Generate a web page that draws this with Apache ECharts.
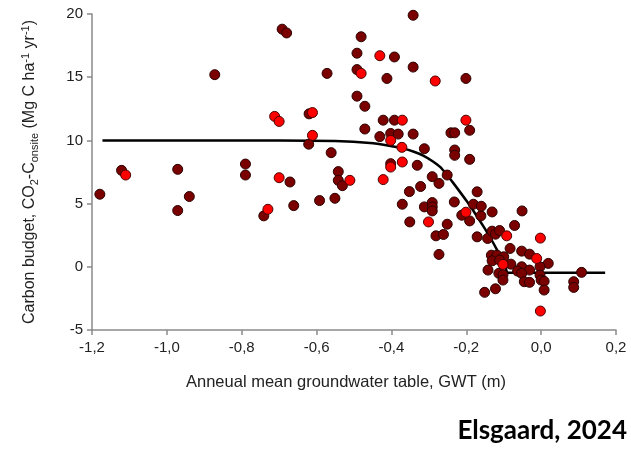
<!DOCTYPE html>
<html>
<head>
<meta charset="utf-8">
<script src="https://cdn.jsdelivr.net/npm/echarts@6/dist/echarts.min.js"></script>
<style>
  html, body { margin: 0; padding: 0; background: #fff; }
  #main { width: 631px; height: 449px; }
</style>
</head>
<body>
<div id="main"></div>
<script>
// dark red sites
const darkPoints = [
  [-1.179, 5.74], [-1.121, 7.63], [-0.971, 7.71], [-0.971, 4.45], [-0.940, 5.56],
  [-0.872, 15.2], [-0.790, 8.13], [-0.790, 7.26], [-0.741, 4.03], [-0.692, 18.8],
  [-0.680, 18.5], [-0.671, 6.71], [-0.661, 4.84], [-0.621, 9.7], [-0.620, 12.1],
  [-0.592, 5.24], [-0.572, 15.3], [-0.561, 9.03], [-0.551, 5.42], [-0.542, 7.53],
  [-0.542, 6.84], [-0.531, 6.42], [-0.492, 16.9], [-0.492, 15.6], [-0.492, 13.5],
  [-0.481, 18.2], [-0.471, 12.7], [-0.471, 10.9], [-0.431, 10.3], [-0.422, 11.6],
  [-0.412, 14.9], [-0.402, 10.55], [-0.402, 8.16], [-0.392, 16.6], [-0.392, 11.6],
  [-0.382, 10.5], [-0.371, 4.95], [-0.352, 5.95], [-0.351, 3.55], [-0.342, 19.9],
  [-0.342, 15.8], [-0.342, 10.5], [-0.331, 8.03], [-0.322, 6.35], [-0.312, 9.34],
  [-0.312, 4.74], [-0.291, 7.13], [-0.291, 5.08], [-0.291, 4.74], [-0.291, 4.42],
  [-0.281, 2.45], [-0.273, 6.6], [-0.273, 0.98], [-0.261, 2.56], [-0.251, 7.26],
  [-0.251, 3.37], [-0.241, 10.6], [-0.231, 10.6], [-0.231, 9.24], [-0.231, 8.82],
  [-0.232, 5.13], [-0.212, 4.08], [-0.201, 14.9], [-0.191, 10.8], [-0.191, 8.50],
  [-0.191, 3.63], [-0.181, 4.95], [-0.171, 5.93], [-0.171, 2.37], [-0.161, 4.03],
  [-0.160, 4.79], [-0.143, 2.24], [-0.131, 4.34], [-0.131, 2.82], [-0.122, 2.58],
  [-0.111, 2.87], [-0.083, 1.45], [-0.071, 3.27], [-0.051, 4.42], [-0.052, 1.24],
  [-0.031, 1.0], [-0.133, 0.92], [-0.118, 0.92], [-0.100, 0.79], [-0.131, 0.47],
  [-0.111, 0.53], [-0.081, 0.21], [-0.142, -0.26], [-0.113, -0.52], [-0.102, -0.63],
  [-0.102, -1.05], [0.019, 0.27], [-0.052, 0], [-0.063, -0.34], [-0.031, -0.26],
  [-0.003, 0], [-0.052, -0.52], [-0.003, -0.66], [-0.045, -1.18], [-0.031, -1.23],
  [0.0, -1.05], [0.008, -1.15], [0.008, -1.84], [-0.151, -2.02], [-0.122, -1.74],
  [0.108, -0.44], [0.087, -1.18], [0.087, -1.63]
];

// bright red sites
const redPoints = [
  [-1.110, 7.26], [-0.730, 4.55], [-0.712, 11.9], [-0.700, 11.5], [-0.700, 7.05],
  [-0.611, 12.2], [-0.611, 10.4], [-0.511, 6.84], [-0.481, 15.3], [-0.431, 16.7],
  [-0.422, 6.90], [-0.402, 10.0], [-0.402, 7.89], [-0.372, 9.45], [-0.371, 11.6],
  [-0.371, 8.29], [-0.301, 3.55], [-0.283, 14.7], [-0.201, 11.6], [-0.201, 4.32],
  [-0.092, 2.45], [-0.002, 2.27], [-0.012, 0.66], [-0.102, 0.19], [-0.002, -3.5]
];

// fitted curve
const curveX = [-1.172, -0.7, -0.55, -0.457, -0.41, -0.368, -0.34, -0.315, -0.29, -0.27,
  -0.25, -0.234, -0.199, -0.176, -0.15, -0.132, -0.110, -0.096, -0.088, 0.171];
const curveY = [10.0, 10.0, 9.95, 9.8, 9.6, 9.35, 9.1, 8.8, 8.35, 7.9,
  7.2, 6.6, 5.2, 4.2, 3.0, 2.1, 0.92, 0.2, -0.47, -0.47];

const xTicks = { min: -1.2, max: 0.2, step: 0.2 };
const yTicks = { min: -5, max: 20, step: 5 };

const font = '"Liberation Sans", Arial, sans-serif';
const axisColor = '#8a8a8a';

const chart = echarts.init(document.getElementById('main'));
const option = {
  animation: false,
  grid: { left: 92, right: 15, top: 14, bottom: 119 },
  xAxis: {
    type: 'value',
    min: xTicks.min, max: xTicks.max, interval: xTicks.step,
    splitLine: { show: false },
    axisLine: { onZero: false, lineStyle: { color: axisColor, width: 1.5 } },
    axisTick: { show: true, length: 5, lineStyle: { color: axisColor, width: 1.5 } },
    axisLabel: {
      color: '#222', fontSize: 15, fontFamily: font, margin: 10,
      formatter: v => v.toFixed(1).replace('.', ',')
    }
  },
  yAxis: {
    type: 'value',
    min: yTicks.min, max: yTicks.max, interval: yTicks.step,
    splitLine: { show: false },
    axisLine: { show: true, onZero: false, lineStyle: { color: axisColor, width: 1.5 } },
    axisTick: { show: true, length: 5, lineStyle: { color: axisColor, width: 1.5 } },
    axisLabel: { color: '#222', fontSize: 15, fontFamily: font, margin: 9 },
    name: 'Carbon budget, CO{sub|2}-C{sub|onsite} (Mg C ha{sup|-1} yr{sup|-1})',
    nameLocation: 'middle',
    nameGap: 52,
    nameTextStyle: {
      color: '#222', fontSize: 16, fontFamily: font, lineHeight: 20,
      rich: {
        sub: { fontSize: 11, fontFamily: font, color: '#222', verticalAlign: 'bottom', lineHeight: 20 },
        sup: { fontSize: 11, fontFamily: font, color: '#222', verticalAlign: 'top', lineHeight: 20 }
      }
    }
  },
  series: [
    {
      type: 'line',
      data: curveX.map((x, i) => [x, curveY[i]]),
      showSymbol: false,
      smooth: 0.3,
      lineStyle: { color: '#000', width: 2.5 },
      z: 1
    },
    {
      type: 'scatter',
      data: darkPoints,
      symbolSize: 10,
      itemStyle: { color: '#7a0000', borderColor: '#2a0000', borderWidth: 1, opacity: 1 },
      z: 2
    },
    {
      type: 'scatter',
      data: redPoints,
      symbolSize: 10,
      itemStyle: { color: '#ff0000', borderColor: '#4a0000', borderWidth: 1, opacity: 1 },
      z: 3
    }
  ],
  graphic: [
    {
      type: 'text', left: 186, top: 374,
      style: { text: 'Anneual mean groundwater table, GWT (m)', fill: '#222', font: '16.5px ' + font }
    },
    {
      type: 'text', right: 4, top: 418,
      style: { text: 'Elsgaard, 2024', fill: '#000', font: 'bold 26px Lato, "Noto Sans", sans-serif' }
    }
  ]
};
chart.setOption(option);
window.addEventListener('resize', () => chart.resize());
</script>
</body>
</html>
